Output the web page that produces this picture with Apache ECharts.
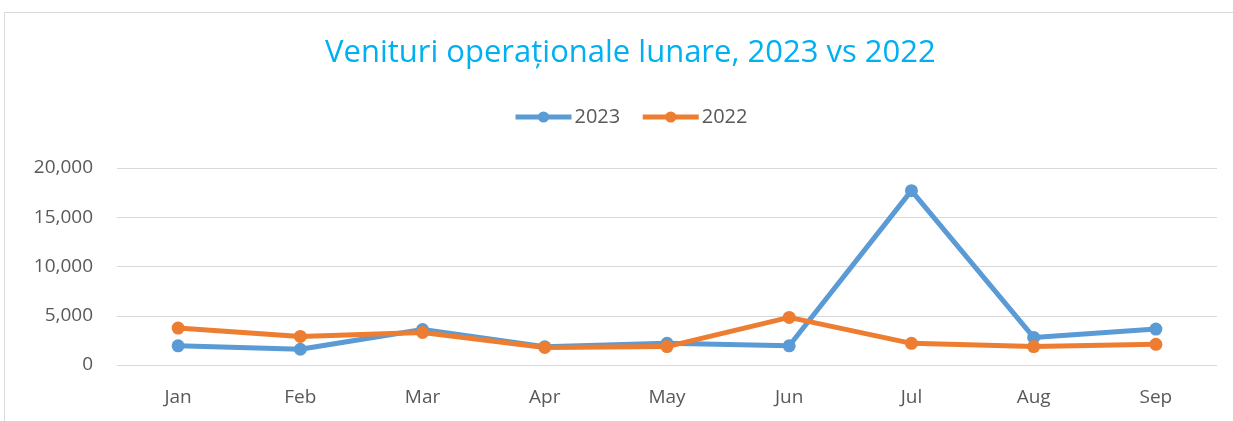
<!DOCTYPE html>
<html>
<head>
<meta charset="utf-8">
<script src="https://cdn.jsdelivr.net/npm/echarts@6/dist/echarts.min.js"></script>
<style>
  html, body { margin: 0; padding: 0; background: #fff; }
  #chart { width: 1233px; height: 421px; }
</style>
</head>
<body>
<div id="chart"></div>
<script>
// date
var months = ['Jan', 'Feb', 'Mar', 'Apr', 'May', 'Jun', 'Jul', 'Aug', 'Sep']
var values2023 = [1950, 1600, 3600, 1850, 2200, 1950, 17700, 2800, 3650]
var values2022 = [3750, 2900, 3300, 1780, 1870, 4830, 2200, 1870, 2100]
var yTicks = [0, 5000, 10000, 15000, 20000]

var fontFamily = '"Open Sans", "Noto Sans", sans-serif'

var myChart = echarts.init(document.getElementById('chart'))

var option = {
    backgroundColor: '#fff',
    animation: false,
    graphic: [
        {
            type: 'rect',
            shape: { x: 4.5, y: 12.5, width: 1300, height: 500 },
            style: { fill: 'none', stroke: '#d9d9d9', lineWidth: 1 },
            silent: true
        }
    ],
    title: {
        text: 'Venituri operaționale lunare, 2023 vs 2022',
        left: 320,
        top: 33,
        textStyle: {
            color: '#00b0f0',
            fontSize: 31,
            fontWeight: 'normal',
            fontFamily: fontFamily
        }
    },
    legend: {
        top: 102,
        left: 508,
        itemWidth: 56,
        itemHeight: 14,
        itemGap: 20,
        lineStyle: { width: 5 },
        textStyle: {
            color: '#595959',
            fontSize: 20,
            fontFamily: fontFamily,
            padding: [0, 0, 0, -2]
        },
        data: ['2023', '2022']
    },
    grid: {
        left: 117,
        right: 16,
        top: 168,
        bottom: 56
    },
    xAxis: {
        type: 'category',
        data: months,
        boundaryGap: true,
        axisLine: { show: false },
        axisTick: { show: false },
        axisLabel: {
            color: '#595959',
            fontSize: 19,
            fontFamily: fontFamily,
            margin: 23
        }
    },
    yAxis: {
        type: 'value',
        min: yTicks[0],
        max: yTicks[yTicks.length - 1],
        interval: yTicks[1] - yTicks[0],
        axisLine: { show: false },
        axisTick: { show: false },
        splitLine: { lineStyle: { color: '#d9d9d9', width: 1 } },
        axisLabel: {
            color: '#595959',
            fontSize: 19,
            fontFamily: fontFamily,
            margin: 24,
            formatter: function (v) {
                return v.toLocaleString('en-US')
            }
        }
    },
    series: [
        {
            name: '2023',
            type: 'line',
            data: values2023,
            symbol: 'circle',
            symbolSize: 13,
            lineStyle: { width: 5, color: '#5b9bd5' },
            itemStyle: { color: '#5b9bd5' }
        },
        {
            name: '2022',
            type: 'line',
            data: values2022,
            symbol: 'circle',
            symbolSize: 13,
            lineStyle: { width: 5, color: '#ed7d31' },
            itemStyle: { color: '#ed7d31' }
        }
    ]
}

myChart.setOption(option)
</script>
</body>
</html>
